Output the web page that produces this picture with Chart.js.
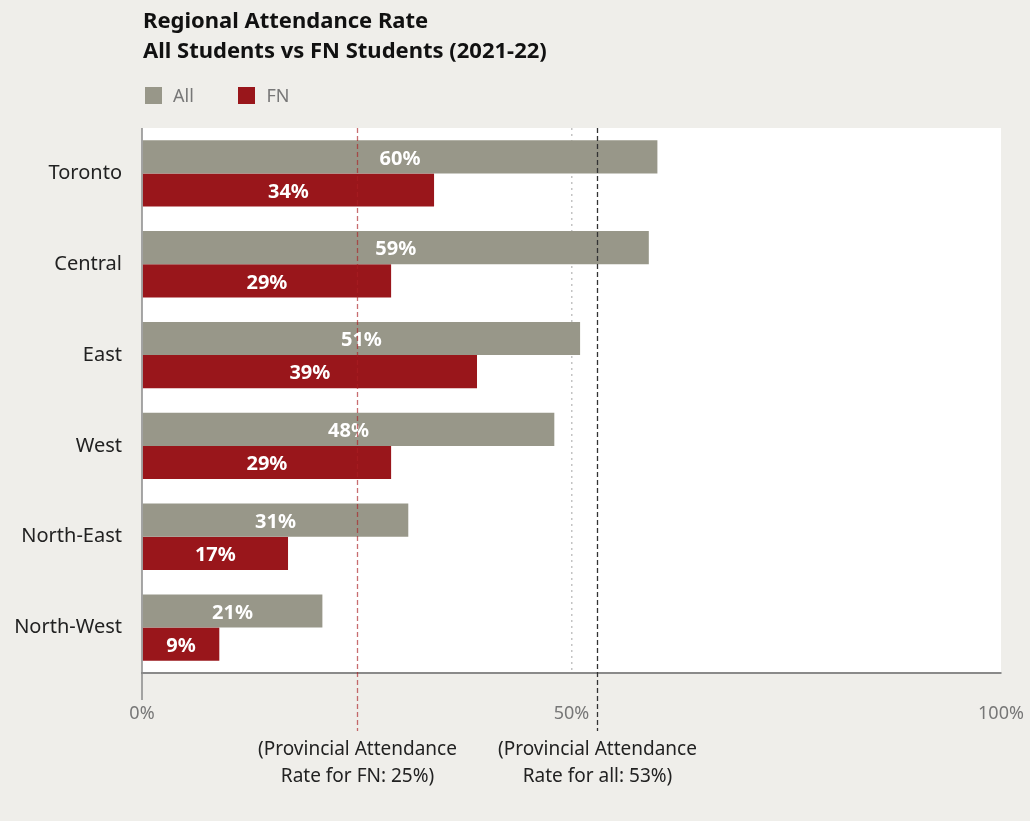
<!DOCTYPE html>
<html>
<head>
<meta charset="utf-8">
<script src="https://cdn.jsdelivr.net/npm/chart.js@4.4.1/dist/chart.umd.min.js"></script>
<style>
  body { margin: 0; background: #efeeea; }
  #wrap { position: relative; width: 1030px; height: 821px; }
  #myChart { position: absolute; left: 0; top: 0; }
  .title { position: absolute; left: 143px; top: 4px; font-family: "Noto Sans", sans-serif; font-weight: bold; font-size: 22px; line-height: 30px; color: #111; }
  .legend { position: absolute; left: 145px; top: 83px; font-family: "Noto Sans", sans-serif; font-size: 18px; color: #777; }
  .legend span.box { display: inline-block; width: 17px; height: 17px; vertical-align: -2px; margin-right: 11px; }
  .legend span.item { margin-right: 40px; }
</style>
</head>
<body>
<div id="wrap">
  <canvas id="myChart" width="1030" height="821"></canvas>
  <div class="title">Regional Attendance Rate<br>All Students vs FN Students (2021-22)</div>
  <div class="legend">
    <span class="item"><span class="box" style="background:#989789"></span>All</span>
    <span class="item"><span class="box" style="background:#99161b"></span>FN</span>
  </div>
</div>
<script>
var regions = ["Toronto", "Central", "East", "West", "North-East", "North-West"];
var allRates = [60, 59, 51, 48, 31, 21];
var fnRates = [34, 29, 39, 29, 17, 9];
var xTicks = [0, 50, 100];

// provincial averages shown as dashed lines
var provincialFN = 25;
var provincialAll = 53;
var provincialFNLabel = ["(Provincial Attendance", "Rate for FN: 25%)"];
var provincialAllLabel = ["(Provincial Attendance", "Rate for all: 53%)"];

var GRAY = "#989789";
var RED = "#99161b";

var plotBackground = {
    id: "plotBackground",
    beforeDraw: function(chart) {
        var a = chart.chartArea, c = chart.ctx;
        c.save();
        c.fillStyle = "#ffffff";
        c.fillRect(a.left, a.top, a.right - a.left, a.bottom - a.top);
        c.restore();
    }
};

var barLabels = {
    id: "barLabels",
    afterDatasetsDraw: function(chart) {
        var c = chart.ctx;
        c.save();
        c.fillStyle = "#ffffff";
        c.font = "bold 20px 'Noto Sans', sans-serif";
        c.textAlign = "center";
        c.textBaseline = "middle";
        chart.data.datasets.forEach(function(ds, i) {
            chart.getDatasetMeta(i).data.forEach(function(bar, j) {
                c.fillText(ds.data[j] + "%", (bar.base + bar.x) / 2, bar.y + 2);
            });
        });
        c.restore();
    }
};

var refLines = {
    id: "refLines",
    afterDraw: function(chart) {
        var a = chart.chartArea, c = chart.ctx, x = chart.scales.x;
        c.save();
        // left axis line, runs a bit past the plot
        c.strokeStyle = "#8a8a8a";
        c.lineWidth = 1.5;
        c.beginPath();
        c.moveTo(a.left, a.top);
        c.lineTo(a.left, a.bottom + 27);
        c.stroke();

        function dashed(value, color, label) {
            var px = Math.round(x.getPixelForValue(value)) + 0.5;
            c.strokeStyle = color;
            c.lineWidth = 1.3;
            c.setLineDash([5, 3]);
            c.beginPath();
            c.moveTo(px, a.top);
            c.lineTo(px, a.bottom + 58);
            c.stroke();
            c.setLineDash([]);
            c.fillStyle = "#222";
            c.font = "19px 'Noto Sans', sans-serif";
            c.textAlign = "center";
            c.textBaseline = "middle";
            c.fillText(label[0], px, a.bottom + 77);
            c.fillText(label[1], px, a.bottom + 104);
        }
        dashed(provincialFN, "rgba(170,30,36,0.65)", provincialFNLabel);
        dashed(provincialAll, "#333333", provincialAllLabel);
        c.restore();
    }
};

var ctx = document.getElementById("myChart").getContext("2d");

var myChart = new Chart(ctx, {
    type: "bar",
    data: {
        labels: regions,
        datasets: [
            { label: "All", data: allRates, backgroundColor: GRAY, categoryPercentage: 0.73, barPercentage: 1 },
            { label: "FN", data: fnRates, backgroundColor: RED, categoryPercentage: 0.73, barPercentage: 1 }
        ]
    },
    options: {
        indexAxis: "y",
        responsive: false,
        animation: false,
        layout: { padding: { left: 0, top: 128, right: 29, bottom: 0 } },
        plugins: {
            legend: { display: false },
            tooltip: { enabled: false }
        },
        scales: {
            x: {
                min: 0,
                max: 100,
                afterBuildTicks: function(scale) {
                    scale.ticks = xTicks.map(function(v) { return { value: v }; });
                },
                afterFit: function(scale) {
                    scale.height = 148;
                    scale.paddingLeft = 0;
                    scale.paddingRight = 0;
                },
                grid: {
                    drawTicks: false,
                    lineWidth: 1.5,
                    color: function(c) { return c.tick && c.tick.value === 50 ? "#c4c4c4" : "rgba(0,0,0,0)"; }
                },
                border: { display: true, color: "#8a8a8a", width: 2, dash: [2, 4] },
                ticks: {
                    padding: 30,
                    color: "#777",
                    font: { family: "'Noto Sans', sans-serif", size: 18 },
                    callback: function(v) { return v + "%"; }
                }
            },
            y: {
                afterFit: function(scale) { scale.width = 142; },
                grid: { display: false, drawTicks: false },
                border: { display: false },
                ticks: {
                    padding: 20,
                    color: "#222",
                    font: { family: "'Noto Sans', sans-serif", size: 20 }
                }
            }
        }
    },
    plugins: [plotBackground, barLabels, refLines]
});
</script>
</body>
</html>
